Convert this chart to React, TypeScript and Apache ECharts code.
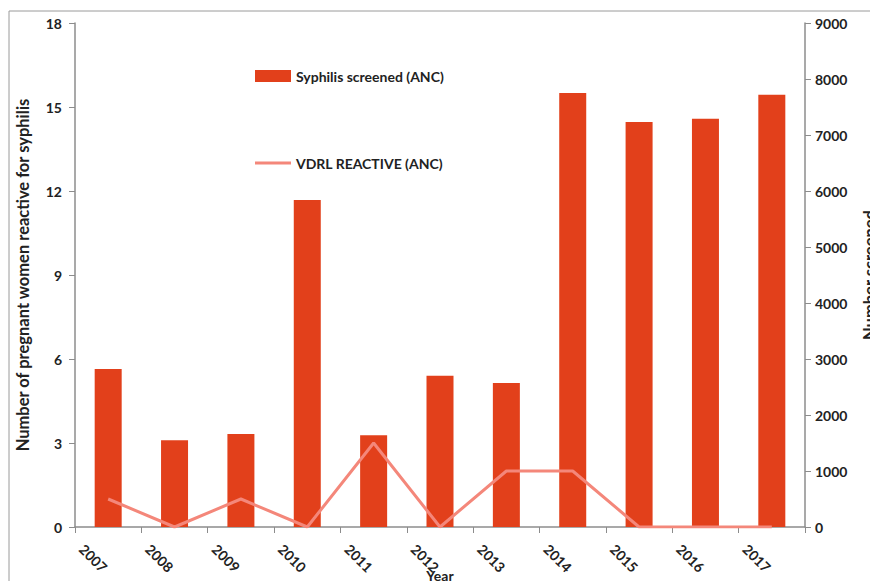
import React, { useEffect, useRef } from "react";
import * as echarts from "echarts";

const years = ["2007", "2008", "2009", "2010", "2011", "2012", "2013", "2014", "2015", "2016", "2017"];
const screened = [2820, 1550, 1660, 5840, 1640, 2700, 2570, 7750, 7230, 7290, 7720];
const reactive = [1, 0, 1, 0, 3, 0, 2, 2, 0, 0, 0];
const leftTicks = { min: 0, max: 18, interval: 3 };
const rightTicks = { min: 0, max: 9000, interval: 1000 };

const FONT = "Lato, 'Open Sans', sans-serif";
const BAR = "#E2401B";
const LINE = "#F4877A";
const AXIS = "#8c8c8c";
const TXT = "#222";

export default function App() {
  const ref = useRef<HTMLDivElement>(null);
  useEffect(() => {
    if (!ref.current) return;
    const chart = echarts.init(ref.current, undefined, { renderer: "svg" });
    const legendText = { fontFamily: FONT, fontSize: 14, fontWeight: "bold", color: TXT };
    chart.setOption({
      animation: false,
      backgroundColor: "#ffffff",
      textStyle: { fontFamily: FONT },
      graphic: [
        {
          type: "rect",
          shape: { x: 9, y: 11, width: 900, height: 600 },
          style: { fill: "none", stroke: "#9a9a9a", lineWidth: 1 },
          silent: true,
        },
      ],
      legend: [
        {
          left: 250,
          top: 64,
          itemWidth: 36,
          itemHeight: 12,
          icon: "rect",
          textStyle: legendText,
          data: ["Syphilis screened (ANC)"],
        },
        {
          left: 250,
          top: 151,
          itemWidth: 36,
          itemHeight: 3,
          icon: "rect",
          textStyle: legendText,
          data: ["VDRL REACTIVE (ANC)"],
        },
      ],
      grid: { left: 75, right: 65, top: 23, bottom: 54, containLabel: false, outerBoundsMode: "none" },
      xAxis: {
        type: "category",
        data: years,
        name: "Year",
        nameLocation: "middle",
        nameGap: 41,
        nameMoveOverlap: false,
        nameTextStyle: { fontFamily: FONT, fontSize: 14, fontWeight: "bold", color: TXT },
        axisLine: { lineStyle: { color: AXIS, width: 1.5 } },
        axisTick: { show: true, alignWithLabel: false, length: 6, lineStyle: { color: AXIS } },
        axisLabel: {
          rotate: -45,
          interval: 0,
          margin: 46,
          align: "center",
          verticalAlign: "middle",
          padding: [0, 42, 0, 0],
          fontFamily: FONT,
          fontSize: 14,
          fontWeight: "bold",
          color: TXT,
        },
      },
      yAxis: [
        {
          type: "value",
          ...leftTicks,
          position: "left",
          name: "Number of pregnant women reactive for syphilis",
          nameLocation: "middle",
          nameRotate: 90,
          nameGap: 44,
          nameMoveOverlap: false,
          nameTextStyle: { fontFamily: FONT, fontSize: 16.5, fontWeight: "bold", color: TXT },
          axisLine: { show: true, lineStyle: { color: AXIS, width: 1.5 } },
          axisTick: { show: true, length: 6, lineStyle: { color: AXIS } },
          splitLine: { show: false },
          axisLabel: { margin: 13, fontFamily: FONT, fontSize: 14, fontWeight: "bold", color: TXT },
        },
        {
          type: "value",
          ...rightTicks,
          position: "right",
          name: "Number screened",
          nameLocation: "middle",
          nameRotate: 90,
          nameGap: 56,
          nameMoveOverlap: false,
          nameTextStyle: { fontFamily: FONT, fontSize: 16.5, fontWeight: "bold", color: TXT },
          axisLine: { show: true, lineStyle: { color: AXIS, width: 1.5 } },
          axisTick: { show: true, length: 6, lineStyle: { color: AXIS } },
          splitLine: { show: false },
          axisLabel: {
            margin: 10,
            fontFamily: FONT,
            fontSize: 14,
            fontWeight: "bold",
            color: TXT,
            formatter: (v: number) => String(v),
          },
        },
      ],
      series: [
        {
          name: "Syphilis screened (ANC)",
          type: "bar",
          yAxisIndex: 1,
          data: screened,
          barWidth: 27,
          itemStyle: { color: BAR },
        },
        {
          name: "VDRL REACTIVE (ANC)",
          type: "line",
          yAxisIndex: 0,
          data: reactive,
          symbol: "none",
          lineStyle: { color: LINE, width: 3 },
          itemStyle: { color: LINE },
        },
      ],
    });
    return () => chart.dispose();
  }, []);
  return (
    <div
      ref={ref}
      style={{ position: "fixed", left: 0, top: 0, width: 870, height: 581 }}
    />
  );
}
